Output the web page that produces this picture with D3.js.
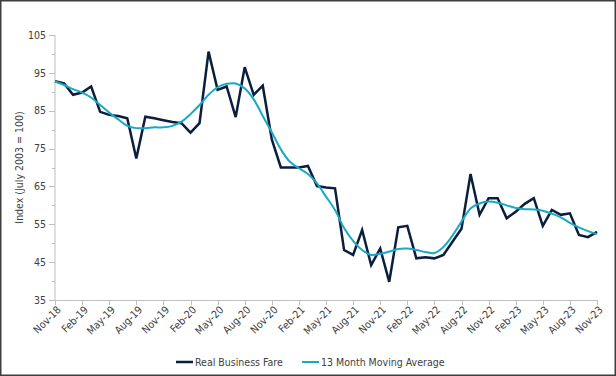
<!DOCTYPE html>
<html><head><meta charset="utf-8">
<script src="https://cdn.jsdelivr.net/npm/d3@7"></script>
<style>
html,body{margin:0;padding:0;background:#fff;}
svg{display:block;}
text{font-family:"DejaVu Sans Condensed","DejaVu Sans",sans-serif;fill:#404040;}
</style></head>
<body>
<svg id="chart" width="616" height="376"></svg>
<script>
const months = ["Nov-18","Dec-18",
"Jan-19","Feb-19","Mar-19","Apr-19","May-19","Jun-19","Jul-19","Aug-19","Sep-19","Oct-19","Nov-19","Dec-19",
"Jan-20","Feb-20","Mar-20","Apr-20","May-20","Jun-20","Jul-20","Aug-20","Sep-20","Oct-20","Nov-20","Dec-20",
"Jan-21","Feb-21","Mar-21","Apr-21","May-21","Jun-21","Jul-21","Aug-21","Sep-21","Oct-21","Nov-21","Dec-21",
"Jan-22","Feb-22","Mar-22","Apr-22","May-22","Jun-22","Jul-22","Aug-22","Sep-22","Oct-22","Nov-22","Dec-22",
"Jan-23","Feb-23","Mar-23","Apr-23","May-23","Jun-23","Jul-23","Aug-23","Sep-23","Oct-23","Nov-23"];

const realBusinessFare = [92.8,92.2,
89.2,89.8,91.4,84.7,83.9,83.6,83.0,72.4,83.4,83.0,82.5,82.0,
81.7,79.2,81.7,100.6,90.5,91.4,83.3,96.5,89.2,91.6,77.4,70.0,
70.0,70.0,70.4,65.1,64.7,64.5,48.2,46.9,53.5,44.2,48.6,39.8,
54.2,54.6,46.0,46.3,46.0,46.9,50.4,53.8,68.3,57.5,61.9,61.9,
56.6,58.3,60.4,61.9,54.6,58.8,57.5,57.9,52.2,51.6,53.0];

const movingAverage13 = [92.7,91.8,
90.7,89.8,88.5,86.5,84.5,82.7,81.0,80.4,80.4,80.6,80.6,81.0,
82.1,84.1,86.5,89.2,91.2,92.1,92.2,90.9,88.0,83.6,79.3,74.8,
71.5,69.8,68.3,65.8,62.3,58.8,54.0,50.6,48.2,46.9,47.2,47.8,
48.5,48.6,48.2,47.7,47.4,49.0,52.0,55.7,59.2,60.5,61.0,60.7,
60.0,59.3,59.0,58.9,58.6,57.8,56.8,55.4,54.2,53.2,52.4];

const xTickLabels = ["Nov-18","Feb-19","May-19","Aug-19","Nov-19","Feb-20","May-20","Aug-20","Nov-20",
"Feb-21","May-21","Aug-21","Nov-21","Feb-22","May-22","Aug-22","Nov-22","Feb-23","May-23","Aug-23","Nov-23"];
const yTicks = [35,45,55,65,75,85,95,105];
const yMinorTicks = [40,50,60,70,80,90,100];

const seriesNames = ["Real Business Fare","13 Month Moving Average"];
const seriesColors = ["#0b1e3d","#1aa9c5"];

const svg = d3.select("#chart");
const W = 616, H = 376;

svg.append("rect").attr("x",0.75).attr("y",0.75).attr("width",W-1.5).attr("height",H-1.5)
  .attr("fill","#fff").attr("stroke","#3f3f3f").attr("stroke-width",1.5);

const x = d3.scalePoint().domain(months).range([55,597]);
const y = d3.scaleLinear().domain([35,105]).range([300,35]);

const axisColor = "#bfbfbf";

// Y axis
const gy = svg.append("g").attr("transform","translate(55,0)");
gy.append("line").attr("x1",0).attr("x2",0).attr("y1",y(105)).attr("y2",y(35)).attr("stroke",axisColor).attr("stroke-width",1);
gy.selectAll(".maj").data(yTicks).join("line").attr("x1",-6).attr("x2",0)
  .attr("y1",d=>Math.round(y(d))+0.5).attr("y2",d=>Math.round(y(d))+0.5).attr("stroke",axisColor);
gy.selectAll(".min").data(yMinorTicks).join("line").attr("x1",-3).attr("x2",0)
  .attr("y1",d=>Math.round(y(d))+0.5).attr("y2",d=>Math.round(y(d))+0.5).attr("stroke",axisColor);
gy.selectAll("text.yl").data(yTicks).join("text").attr("class","yl")
  .attr("x",-9).attr("y",d=>y(d)).attr("dy","0.35em").attr("text-anchor","end")
  .style("font-size","10.5px").text(d=>d);

svg.append("text").attr("transform",`translate(19,${(y(35)+y(105))/2}) rotate(-90)`)
  .attr("text-anchor","middle").attr("dy","0.35em").style("font-size","10.5px")
  .text("Index (July 2003 = 100)");

// X axis
const gx = svg.append("g").attr("transform",`translate(0,${y(35)})`);
gx.append("line").attr("x1",55).attr("x2",597).attr("y1",0.5).attr("y2",0.5).attr("stroke",axisColor);
gx.selectAll("line.xt").data(xTickLabels).join("line").attr("class","xt")
  .attr("x1",d=>Math.round(x(d))+0.5).attr("x2",d=>Math.round(x(d))+0.5).attr("y1",0).attr("y2",5).attr("stroke",axisColor);
gx.selectAll("text.xl").data(xTickLabels).join("text").attr("class","xl")
  .attr("transform",d=>`translate(${x(d)+4},${8}) rotate(-45)`)
  .attr("text-anchor","end").attr("dy","0.35em").style("font-size","10.5px").text(d=>d);

// Lines
const lineReal = d3.line().x((d,i)=>x(months[i])).y(d=>y(d));
const lineAvg = d3.line().x((d,i)=>x(months[i])).y(d=>y(d)).curve(d3.curveCatmullRom.alpha(0.5));

svg.append("path").datum(realBusinessFare).attr("d",lineReal).attr("fill","none")
  .attr("stroke",seriesColors[0]).attr("stroke-width",2.5).attr("stroke-linejoin","miter");
svg.append("path").datum(movingAverage13).attr("d",lineAvg).attr("fill","none")
  .attr("stroke",seriesColors[1]).attr("stroke-width",2);

// Legend
const legendX = [176,302];
const lg = svg.append("g");
seriesNames.forEach((n,i)=>{
  lg.append("line").attr("x1",legendX[i]).attr("x2",legendX[i]+17).attr("y1",362).attr("y2",362)
    .attr("stroke",seriesColors[i]).attr("stroke-width",i===0?2.5:2);
  lg.append("text").attr("x",legendX[i]+19).attr("y",362).attr("dy","0.35em").style("font-size","10.5px").text(n);
});
</script>
</body></html>
